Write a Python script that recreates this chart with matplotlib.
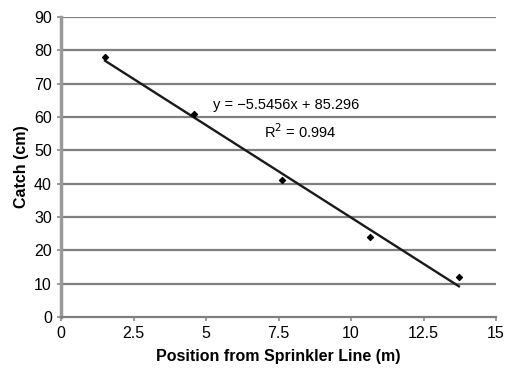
import matplotlib
matplotlib.use("Agg")
import matplotlib.pyplot as plt
import numpy as np

plt.rcParams["font.family"] = ["Liberation Sans", "DejaVu Sans"]

# data
position = [1.52, 4.57, 7.62, 10.67, 13.72]
catch = [78, 61, 41, 24, 12]
slope = -5.5456
intercept = 85.296
r2 = 0.994

fig = plt.figure(figsize=(5.08, 3.69), dpi=100)
ax = fig.add_axes([61 / 508, 52 / 369, 435 / 508, 300 / 369])

for yv in range(10, 91, 10):
    ax.axhline(yv, color="#7f7f7f", lw=1.6, zorder=1)

xs = np.array([position[0], position[-1]])
ax.plot(xs, slope * xs + intercept, color="#1a1a1a", lw=1.7, zorder=2)
ax.scatter(position, catch, marker="D", s=9, color="black", zorder=3)

ax.text(7.75, 63.5, f"y = {slope:.4f}x + {intercept:.3f}".replace("-", "\u2212"),
        ha="center", va="center", fontsize=10.5)
ax.text(8.25, 55.5, f"R$^2$ = {r2:.3f}", ha="center", va="center", fontsize=10.5)

ax.set_xlim(0, 15)
ax.set_ylim(0, 90)
ax.set_xticks([0, 2.5, 5, 7.5, 10, 12.5, 15])
ax.set_xticklabels(["0", "2.5", "5", "7.5", "10", "12.5", "15"])
ax.set_yticks(range(0, 91, 10))
for s in ["top", "right"]:
    ax.spines[s].set_visible(False)
ax.spines["left"].set_color("#9a9a9a")
ax.spines["left"].set_linewidth(2.5)
ax.spines["bottom"].set_color("#7f7f7f")
ax.spines["bottom"].set_linewidth(1.6)
ax.tick_params(colors="#8a8a8a", labelcolor="black", labelsize=11.5, length=3, width=1.2)

ax.set_xlabel("Position from Sprinkler Line (m)", fontsize=11.5, fontweight="bold", labelpad=6)
ax.set_ylabel("Catch (cm)", fontsize=11.5, fontweight="bold", labelpad=4)

fig.savefig("out.png", dpi=100)
